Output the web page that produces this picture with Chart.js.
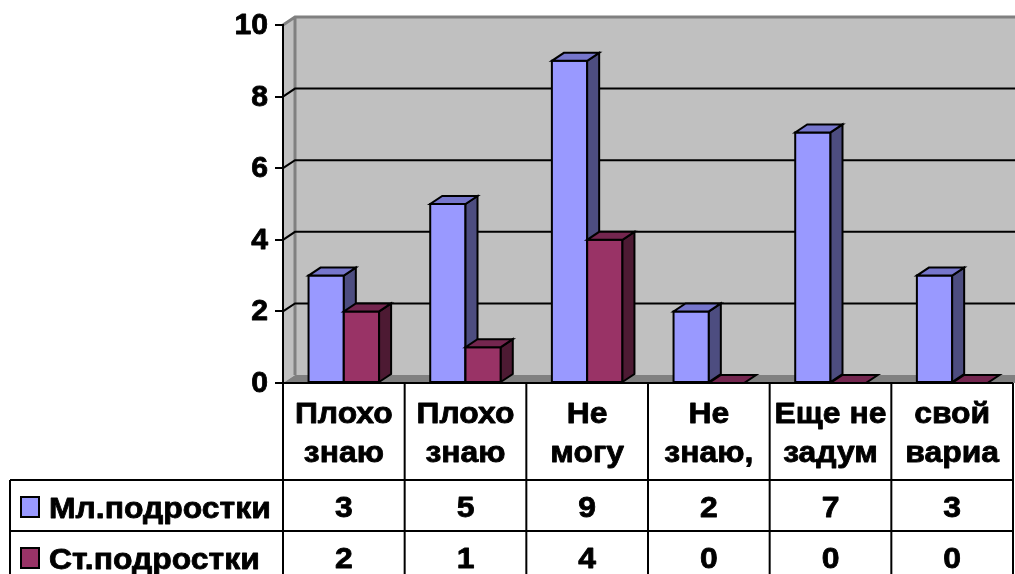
<!DOCTYPE html>
<html>
<head>
<meta charset="utf-8">
<script src="https://cdn.jsdelivr.net/npm/chart.js@4.4.1/dist/chart.umd.min.js"></script>
<style>
  html, body { margin: 0; padding: 0; background: #fff; }
  #wrap { width: 1015px; height: 574px; }
</style>
</head>
<body>
<div id="wrap"><canvas id="chart" width="1015" height="574"></canvas></div>
<script>
// данные с диаграммы
const categories = [
    ['Плохо', 'знаю'],
    ['Плохо', 'знаю'],
    ['Не', 'могу'],
    ['Не', 'знаю,'],
    ['Еще не', 'задум'],
    ['свой', 'вариа']
];
const seriesNames = ['Мл.подростки', 'Ст.подростки'];
const youngValues = [3, 5, 9, 2, 7, 3];
const olderValues = [2, 1, 4, 0, 0, 0];
const yTicks = [0, 2, 4, 6, 8, 10];

const FONT = 'bold 29px "Liberation Sans", Arial, sans-serif';
const STRETCH = 1.1;     // текст в таблице немного шире обычного
const DX = 12, DY = 8;   // смещение глубины
const colors = [
    { front: '#9999FF', top: '#7676CC', side: '#4D4D80' },
    { front: '#993366', top: '#74264F', side: '#4D1A33' }
];

function poly(ctx, pts, fill, stroke, lw) {
    ctx.beginPath();
    ctx.moveTo(pts[0][0], pts[0][1]);
    for (let i = 1; i < pts.length; i++) ctx.lineTo(pts[i][0], pts[i][1]);
    ctx.closePath();
    if (fill) { ctx.fillStyle = fill; ctx.fill(); }
    if (stroke) { ctx.strokeStyle = stroke; ctx.lineWidth = lw || 2; ctx.lineJoin = 'miter'; ctx.stroke(); }
}

function wideText(ctx, text, x, y, sx) {
    ctx.save();
    ctx.translate(x, y);
    ctx.scale(sx || STRETCH, 1);
    ctx.fillText(text, 0, 0);
    ctx.strokeStyle = ctx.fillStyle;
    ctx.lineWidth = 0.8;
    ctx.lineJoin = 'round';
    ctx.strokeText(text, 0, 0);
    ctx.restore();
}

// стенки, пол и сетка
const walls = {
    id: 'walls',
    beforeDraw(chart) {
        const { ctx, chartArea: a, scales } = chart;
        const W = chart.width;
        ctx.save();
        poly(ctx, [[a.left + DX, a.top - DY], [W, a.top - DY], [W, a.bottom - DY], [a.left + DX, a.bottom - DY]], '#C0C0C0');
        poly(ctx, [[a.left, a.top], [a.left + DX, a.top - DY], [a.left + DX, a.bottom - DY], [a.left, a.bottom]], '#C0C0C0');
        poly(ctx, [[a.left, a.bottom], [a.left + DX, a.bottom - DY], [W, a.bottom - DY], [W, a.bottom]], '#808080');

        ctx.strokeStyle = '#808080';
        ctx.lineWidth = 3;
        ctx.beginPath();
        ctx.moveTo(a.left, a.top);
        ctx.lineTo(a.left + DX, a.top - DY);
        ctx.lineTo(W, a.top - DY);
        ctx.moveTo(a.left + DX, a.top - DY);
        ctx.lineTo(a.left + DX, a.bottom - DY);
        ctx.stroke();

        ctx.strokeStyle = '#000';
        ctx.lineWidth = 2;
        yTicks.forEach(v => {
            if (v === yTicks[0] || v === yTicks[yTicks.length - 1]) return;
            const y = scales.y.getPixelForValue(v);
            ctx.beginPath();
            ctx.moveTo(a.left, y);
            ctx.lineTo(a.left + DX, y - DY);
            ctx.lineTo(W, y - DY);
            ctx.stroke();
        });
        ctx.restore();
    },
    beforeDatasetDraw() {
        return false;
    },
    afterDatasetsDraw(chart) {
        const { ctx, scales } = chart;
        ctx.save();
        for (let i = 0; i < categories.length; i++) {
            chart.data.datasets.forEach((ds, d) => {
                const bar = chart.getDatasetMeta(d).data[i];
                const c = colors[d];
                const l = bar.x - bar.width / 2, r = bar.x + bar.width / 2;
                const t = bar.y, b = bar.base;
                if (b - t > 0.5) {
                    poly(ctx, [[l, t], [r, t], [r, b], [l, b]], c.front, '#000', 2);
                    poly(ctx, [[r, t], [r + DX, t - DY], [r + DX, b - DY], [r, b]], c.side, '#000', 2);
                }
                poly(ctx, [[l, t], [r, t], [r + DX, t - DY], [l + DX, t - DY]], c.top, '#000', 2);
            });
        }
        // передний край пола
        const a = chart.chartArea;
        ctx.strokeStyle = '#000';
        ctx.lineWidth = 2;
        ctx.beginPath();
        ctx.moveTo(a.left, a.bottom);
        ctx.lineTo(a.right, a.bottom);
        ctx.stroke();

        // подписи оси Y
        ctx.font = FONT;
        ctx.fillStyle = '#000';
        ctx.textAlign = 'right';
        ctx.textBaseline = 'middle';
        yTicks.forEach(v => {
            wideText(ctx, String(v), a.left - 15, scales.y.getPixelForValue(v) + 1, 1.04);
        });
        ctx.restore();
    }
};

// таблица данных под графиком
const dataTable = {
    id: 'dataTable',
    afterDraw(chart) {
        const { ctx, chartArea: a, scales } = chart;
        const colW = (a.right - a.left) / categories.length;
        const rowTop = 480, rowH = 51, tableLeft = 10;
        const rows = [youngValues, olderValues];
        ctx.save();
        ctx.strokeStyle = '#000';
        ctx.lineWidth = 2;
        ctx.beginPath();
        for (let i = 0; i <= categories.length; i++) {
            const x = a.left + i * colW;
            ctx.moveTo(x, a.bottom);
            ctx.lineTo(x, rowTop + rowH * 2 + 2);
        }
        ctx.moveTo(tableLeft, rowTop);
        ctx.lineTo(tableLeft, rowTop + rowH * 2 + 2);
        for (let r = 0; r <= 2; r++) {
            ctx.moveTo(tableLeft, rowTop + r * rowH);
            ctx.lineTo(a.right, rowTop + r * rowH);
        }
        ctx.stroke();

        ctx.font = FONT;
        ctx.fillStyle = '#000';
        ctx.textAlign = 'center';
        ctx.textBaseline = 'alphabetic';
        categories.forEach((lines, i) => {
            const cx = scales.x.getPixelForValue(i);
            wideText(ctx, lines[0], cx, 423);
            wideText(ctx, lines[1], cx, 462);
            rows.forEach((vals, r) => {
                wideText(ctx, String(vals[i]), cx, rowTop + r * rowH + 37);
            });
        });

        ctx.textAlign = 'left';
        seriesNames.forEach((name, r) => {
            const y = rowTop + r * rowH;
            ctx.fillStyle = colors[r].front;
            ctx.fillRect(21, y + 17, 18, 20);
            ctx.strokeStyle = '#000';
            ctx.lineWidth = 2;
            ctx.strokeRect(21, y + 17, 18, 20);
            ctx.fillStyle = '#000';
            wideText(ctx, name, 49, y + 38);
        });
        ctx.restore();
    }
};

new Chart(document.getElementById('chart'), {
    type: 'bar',
    data: {
        labels: categories,
        datasets: [
            { label: seriesNames[0], data: youngValues, backgroundColor: colors[0].front },
            { label: seriesNames[1], data: olderValues, backgroundColor: colors[1].front }
        ]
    },
    options: {
        responsive: false,
        animation: false,
        layout: { padding: { left: 0, right: 2, top: 25, bottom: 191 } },
        datasets: { bar: { barPercentage: 1, categoryPercentage: 0.58 } },
        plugins: { legend: { display: false }, tooltip: { enabled: false } },
        scales: {
            x: { display: false },
            y: {
                min: 0,
                max: 10,
                afterFit: s => { s.width = 283; },
                afterBuildTicks: s => { s.ticks = yTicks.map(v => ({ value: v })); },
                ticks: { display: false },
                grid: { drawOnChartArea: false, drawTicks: true, tickLength: 8, color: '#000', lineWidth: 2 },
                border: { display: true, color: '#000', width: 2 }
            }
        }
    },
    plugins: [walls, dataTable]
});
</script>
</body>
</html>
